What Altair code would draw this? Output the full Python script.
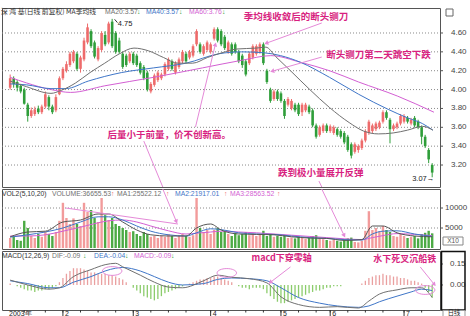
import altair as alt
import pandas as pd

opens = [4.02, 4.12, 4.08, 4.04, 4.00, 3.84, 3.72, 3.74, 3.80, 3.76,
         3.82, 3.92, 3.82, 3.78, 3.95, 4.12, 4.20, 4.26, 4.30, 4.38,
         4.22, 4.32, 4.50, 4.62, 4.50, 4.32, 4.42, 4.58, 4.50, 4.72,
         4.60, 4.52, 4.38, 4.36, 4.30, 4.38, 4.36, 4.28, 4.24, 4.18,
         3.98, 4.05, 4.10, 4.12, 4.16, 4.22, 4.30, 4.18, 4.24, 4.30,
         4.38, 4.34, 4.36, 4.48, 4.48, 4.38, 4.42, 4.40, 4.54, 4.64,
         4.62, 4.56, 4.40, 4.48, 4.48, 4.40, 4.36, 4.30, 4.28, 4.34,
         4.38, 4.40, 4.48, 4.20, 4.00, 3.90, 3.98, 3.96, 3.88, 3.84,
         3.80, 3.84, 3.84, 3.76, 3.78, 3.82, 3.78, 3.62, 3.52, 3.56,
         3.62, 3.56, 3.54, 3.58, 3.56, 3.54, 3.50, 3.42, 3.34, 3.36,
         3.38, 3.46, 3.54, 3.56, 3.58, 3.60, 3.66, 3.76, 3.68, 3.58,
         3.60, 3.64, 3.66, 3.70, 3.64, 3.70, 3.66, 3.60, 3.50, 3.36,
         3.20]
closes = [4.12, 4.06, 4.02, 3.98, 3.85, 3.72, 3.78, 3.79, 3.76, 3.82,
          3.95, 3.82, 3.76, 3.92, 4.12, 4.22, 4.27, 4.38, 4.40, 4.22,
          4.34, 4.52, 4.66, 4.46, 4.35, 4.44, 4.60, 4.48, 4.70, 4.46,
          4.40, 4.40, 4.24, 4.26, 4.38, 4.28, 4.26, 4.18, 4.12, 4.00,
          4.06, 4.15, 4.18, 4.16, 4.27, 4.32, 4.22, 4.28, 4.32, 4.40,
          4.30, 4.40, 4.46, 4.62, 4.40, 4.46, 4.50, 4.48, 4.64, 4.52,
          4.48, 4.44, 4.50, 4.38, 4.40, 4.30, 4.26, 4.16, 4.38, 4.46,
          4.46, 4.48, 4.28, 4.08, 3.88, 3.98, 3.90, 3.88, 3.72, 3.90,
          3.88, 3.78, 3.74, 3.84, 3.84, 3.76, 3.62, 3.50, 3.60, 3.62,
          3.56, 3.61, 3.60, 3.52, 3.50, 3.44, 3.36, 3.30, 3.42, 3.40,
          3.46, 3.56, 3.66, 3.62, 3.64, 3.65, 3.76, 3.70, 3.58, 3.62,
          3.64, 3.72, 3.72, 3.66, 3.68, 3.62, 3.60, 3.50, 3.40, 3.26,
          3.12]
highs = [4.16, 4.14, 4.10, 4.06, 4.02, 3.86, 3.81, 3.82, 3.83, 3.84,
         3.98, 3.94, 3.84, 3.95, 4.14, 4.24, 4.30, 4.40, 4.42, 4.40,
         4.36, 4.55, 4.70, 4.64, 4.52, 4.46, 4.62, 4.62, 4.72, 4.75,
         4.62, 4.55, 4.40, 4.38, 4.40, 4.40, 4.38, 4.30, 4.26, 4.20,
         4.08, 4.17, 4.20, 4.18, 4.29, 4.34, 4.32, 4.30, 4.34, 4.42,
         4.40, 4.42, 4.48, 4.64, 4.50, 4.48, 4.52, 4.50, 4.66, 4.66,
         4.64, 4.58, 4.52, 4.50, 4.50, 4.42, 4.38, 4.32, 4.40, 4.48,
         4.48, 4.50, 4.50, 4.22, 4.02, 4.00, 4.00, 3.98, 3.90, 3.92,
         3.90, 3.86, 3.86, 3.86, 3.86, 3.84, 3.80, 3.64, 3.62, 3.64,
         3.64, 3.63, 3.62, 3.60, 3.58, 3.56, 3.52, 3.44, 3.44, 3.42,
         3.48, 3.58, 3.68, 3.64, 3.66, 3.67, 3.78, 3.78, 3.70, 3.64,
         3.66, 3.74, 3.74, 3.72, 3.70, 3.72, 3.68, 3.62, 3.52, 3.38,
         3.22]
lows = [4.00, 4.02, 3.98, 3.96, 3.84, 3.66, 3.70, 3.72, 3.74, 3.74,
        3.80, 3.78, 3.74, 3.76, 3.94, 4.10, 4.18, 4.24, 4.28, 4.20,
        4.18, 4.30, 4.48, 4.44, 4.33, 4.30, 4.40, 4.46, 4.48, 4.44,
        4.38, 4.38, 4.22, 4.24, 4.28, 4.26, 4.24, 4.16, 4.10, 3.98,
        3.96, 4.03, 4.08, 4.10, 4.14, 4.20, 4.20, 4.16, 4.22, 4.28,
        4.28, 4.32, 4.34, 4.46, 4.38, 4.36, 4.40, 4.38, 4.52, 4.50,
        4.46, 4.42, 4.38, 4.36, 4.38, 4.28, 4.23, 4.14, 4.26, 4.32,
        4.36, 4.38, 4.26, 4.06, 3.86, 3.88, 3.88, 3.86, 3.69, 3.82,
        3.78, 3.76, 3.72, 3.72, 3.76, 3.74, 3.60, 3.48, 3.50, 3.54,
        3.54, 3.54, 3.52, 3.50, 3.48, 3.42, 3.34, 3.27, 3.32, 3.33,
        3.36, 3.44, 3.52, 3.54, 3.56, 3.58, 3.64, 3.68, 3.43, 3.56,
        3.58, 3.62, 3.64, 3.64, 3.62, 3.60, 3.58, 3.42, 3.38, 3.22,
        3.07]
volumes = [2500, 3000, 2000, 1800, 6800, 5000, 3000, 2500, 3500, 2800,
           4000, 3500, 3000, 4000, 6800, 11300, 7500, 6000, 7400, 6000,
           5500, 11300, 9000, 9500, 7500, 6500, 12500, 8200, 7000, 7500,
           6000, 5500, 5000, 4500, 4000, 4200, 3500, 3000, 4000, 3500,
           2800, 3000, 2500, 3000, 2800, 3500, 3000, 2500, 3000, 3500,
           3000, 2800, 3200, 12500, 5000, 4000, 4500, 3500, 4500, 5000,
           4000, 4200, 3500, 3000, 3800, 3200, 3500, 4000, 3200, 3600,
           3000, 3400, 4300, 3000, 3500, 2800, 3000, 2800, 3200, 2500,
           2600, 2400, 2800, 2500, 2300, 2600, 3000, 3200, 2500, 2200,
           2000, 1800, 2000, 1800, 1600, 2200, 2400, 2600, 1500, 1400,
           1800, 4300, 9200, 4500, 5000, 4200, 5500, 4500, 4000, 3000,
           2800, 3500, 3000, 2500, 2800, 3000, 2400, 3500, 3800, 4300,
           3666]
macd_hist = [0.01, 0.0, -0.01, -0.02, -0.03, -0.04, -0.04, -0.05, -0.04, -0.04,
             -0.03, -0.03, -0.02, -0.01, 0.02, 0.05, 0.08, 0.10, 0.12, 0.12,
             0.12, 0.11, 0.10, 0.09, 0.09, 0.08, 0.08, 0.08, 0.07, 0.07,
             0.06, 0.05, 0.04, 0.02, 0.0, -0.02, -0.04, -0.06, -0.08, -0.09,
             -0.10, -0.11, -0.10, -0.08, -0.06, -0.05, -0.04, -0.03, -0.02, -0.01,
             0.0, 0.01, 0.02, 0.03, 0.04, 0.04, 0.05, 0.05, 0.06, 0.06,
             0.05, 0.04, 0.03, 0.02, 0.0, -0.01, -0.02, -0.02, -0.03, -0.02,
             -0.02, -0.02, -0.03, -0.06, -0.08, -0.10, -0.12, -0.13, -0.13, -0.12,
             -0.11, -0.10, -0.09, -0.08, -0.07, -0.06, -0.05, -0.04, -0.04, -0.03,
             -0.02, -0.02, -0.01, -0.01, -0.01, 0.0, 0.0, 0.0, 0.0, 0.0,
             0.01, 0.03, 0.05, 0.06, 0.07, 0.07, 0.08, 0.07, 0.07, 0.06,
             0.06, 0.05, 0.05, 0.04, 0.03, 0.03, 0.02, 0.01, -0.02, -0.05,
             -0.09]

ma20_days = [0, 4.7, 11.6, 14.4, 18.6, 22.7, 26.9, 31.1, 35.2, 39.4, 43.6, 47.7, 51.9, 56.1, 60.2,
             64.4, 70.0, 72.7, 75.5, 79.7, 85.2, 90.8, 96.4, 100.5, 104.7, 108.9, 113.0, 117.2, 120.2]
ma20_vals = [4.09, 4.03, 3.96, 3.99, 4.07, 4.18, 4.28, 4.38, 4.44, 4.41, 4.34, 4.28, 4.28, 4.34, 4.39,
             4.43, 4.44, 4.45, 4.35, 4.20, 4.00, 3.81, 3.65, 3.56, 3.53, 3.54, 3.57, 3.61, 3.57]
ma40_days = [0, 4.7, 11.6, 15.8, 22.2, 31.6, 40.8, 50.0, 59.4, 65.8, 72.2, 76.9, 82.5, 90.8, 99.1,
             107.5, 113.0, 117.2, 120.2]
ma40_vals = [4.06, 4.05, 4.01, 4.01, 4.09, 4.18, 4.23, 4.28, 4.38, 4.40, 4.39, 4.36, 4.29, 4.13, 3.95,
             3.79, 3.70, 3.64, 3.57]
ma60_days = [0, 4.7, 11.6, 17.2, 26.9, 40.8, 54.7, 65.8, 74.1, 82.5, 90.8, 99.1, 110.2, 120.5]
ma60_vals = [4.13, 4.07, 4.00, 3.97, 4.04, 4.13, 4.23, 4.31, 4.36, 4.29, 4.20, 4.08, 3.93, 3.76]

vma_days = [0, 5, 10, 15, 20, 25, 28, 32, 36, 40, 45, 50, 53, 57, 60, 65, 70, 75, 80, 85, 90, 95,
            100, 103, 106, 110, 115, 120]
vma1_vals = [2800, 4000, 4200, 6500, 7000, 8500, 8500, 6500, 4500, 3300, 3000, 3000, 5000, 6000, 4500,
             3500, 3400, 3300, 2800, 2500, 2400, 1900, 2100, 5500, 5500, 3800, 3000, 2800]
vma2_vals = [2700, 3300, 4000, 5000, 6500, 7800, 7800, 7000, 5500, 4200, 3300, 3000, 3800, 4800, 4600,
             3800, 3500, 3400, 3000, 2600, 2400, 2100, 2000, 3500, 4200, 4300, 3500, 2900]
vma3_vals = [3000, 3000, 3300, 4200, 5200, 6300, 6800, 7000, 6500, 5500, 4300, 3500, 3700, 4000, 4200,
             4000, 3800, 3500, 3200, 2900, 2600, 2300, 2100, 2600, 3100, 3600, 3400, 3100]

macd_days = [0, 5, 11, 14, 18, 23, 27, 30, 32, 37, 41, 45, 49, 55, 59, 63, 68, 73, 77, 82, 88, 93,
             99, 102, 105, 110, 114, 117, 120]
dif_vals = [0.035, 0.0, -0.03, -0.02, 0.06, 0.11, 0.145, 0.155, 0.13, 0.07, 0.02, -0.015, -0.02, 0.03,
            0.07, 0.055, 0.045, 0.015, -0.085, -0.14, -0.16, -0.155, -0.165, -0.115, -0.065, -0.035,
            -0.02, -0.02, -0.09]
dea_vals = [0.03, 0.01, -0.02, -0.02, 0.02, 0.06, 0.10, 0.12, 0.125, 0.10, 0.06, 0.02, 0.0, 0.01,
            0.04, 0.05, 0.045, 0.03, -0.02, -0.09, -0.13, -0.15, -0.16, -0.15, -0.12, -0.08, -0.05,
            -0.03, -0.04]

price_ticks = [3.2, 3.4, 3.6, 3.8, 4.0, 4.2, 4.4, 4.6]
vol_ticks = [5000, 10000]
macd_ticks = [0.0, 0.15]
month_days = [-0.9, 15, 35, 57, 77, 91, 112]
month_names = ["2003年", "2", "3", "4", "5", "6", "7"]
minor_days = [4, 10, 20, 25, 30, 40, 45, 50, 62, 67, 72, 82, 87, 96, 101, 106, 117]

p_note_text = ["季均线收敛后的断头铡刀", "断头铡刀第二天跳空下跌", "后量小于前量，价不创新高。", "跌到极小量展开反弹"]
p_note_day = [81.3, 104.7, 45.2, 88.3]
p_note_val = [4.77, 4.366, 3.518, 3.115]
m_note_text = ["macd下穿零轴", "水下死叉沉船铁"]
m_note_day = [77.2, 112.2]
m_note_val = [0.193, 0.186]
# hand-drawn loops around the MACD crossings
loop_days = [29.0, 61.6, 118.0]
loop_vals = [0.10, 0.086, -0.036]

RED, GREEN = "#ee6b6b", "#2f9e3a"
VRED, VGREEN = "#f29b9b", "#4caa44"
HRED, HGREEN = "#eaa0a0", "#8ccc6c"
GRAY, BLUE, MAG = "#707070", "#3f76c8", "#d35fd3"
PINK, ARROW = "#d81f80", "#e58ad8"
W, H1, H2, H3 = 438, 179, 60, 59

df = pd.DataFrame({"day": list(range(len(opens))), "open": opens, "close": closes,
                   "high": highs, "low": lows, "vol": volumes, "hist": macd_hist})
df["dir"] = ["up" if c >= o else "down" for o, c in zip(opens, closes)]
df["vdir"] = df["dir"]
df["hdir"] = ["pos" if h >= 0 else "neg" for h in macd_hist]

xs = alt.Scale(domain=[-0.9, 120.8], nice=False, zero=False)
ps = alt.Scale(domain=[2.967, 4.865], nice=False, zero=False)
vs = alt.Scale(domain=[-250, 14750], nice=False, zero=False)
ms = alt.Scale(domain=[-0.179, 0.243], nice=False, zero=False)
X = alt.X("day:Q", scale=xs, axis=None)


def txt(t, x, y, color, size=6.8, font="Liberation Sans", align="left"):
    return alt.Chart(pd.DataFrame({"t": [t]})).mark_text(
        align=align, baseline="middle", fontSize=size, font=font, color=color
    ).encode(x=alt.value(x), y=alt.value(y), text="t:N")


def line(days, vals, ysc, color):
    return alt.Chart(pd.DataFrame({"day": days, "v": vals})).mark_line(
        color=color, strokeWidth=1, interpolate="monotone"
    ).encode(x=X, y=alt.Y("v:Q", scale=ysc, axis=None))


def segs(x1, y1, x2, y2, ysc):
    d = pd.DataFrame({"x1": x1, "y1": y1, "x2": x2, "y2": y2})
    return alt.Chart(d).mark_rule(color=ARROW, strokeWidth=1).encode(
        x=alt.X("x1:Q", scale=xs, axis=None), x2="x2:Q",
        y=alt.Y("y1:Q", scale=ysc, axis=None), y2="y2:Q")


def heads(x, y, ang, ysc):
    d = pd.DataFrame({"x": x, "y": y, "a": ang})
    return alt.Chart(d).mark_point(shape="triangle", filled=True, size=22, color=ARROW, opacity=1).encode(
        x=alt.X("x:Q", scale=xs, axis=None), y=alt.Y("y:Q", scale=ysc, axis=None),
        angle=alt.Angle("a:Q", scale=None))


def notes(t, x, y, ysc, size=9.5):
    d = pd.DataFrame({"t": t, "x": x, "y": y})
    return alt.Chart(d).mark_text(font="Noto Sans CJK SC", fontSize=size, fontWeight="bold",
                                  color=PINK, align="center", baseline="middle").encode(
        x=alt.X("x:Q", scale=xs, axis=None), y=alt.Y("y:Q", scale=ysc, axis=None), text="t:N")


def right_axis(ticks, ysc, labels, label_x, grid=True):
    # right-hand value axis: dotted grid, small ticks and labels placed through the panel's y scale
    d = pd.DataFrame({"v": ticks, "lab": labels})
    Y = alt.Y("v:Q", scale=ysc, axis=None)
    out = []
    if grid:
        out.append(alt.Chart(d).mark_rule(strokeDash=[1, 2], color="#8a8a8a", strokeWidth=1).encode(
            x=alt.value(0), x2=alt.value(W), y=Y))
    out.append(alt.Chart(d).mark_rule(color="#555", strokeWidth=1).encode(
        x=alt.value(W), x2=alt.value(W + 3), y=Y))
    out.append(alt.Chart(d).mark_text(align="left", baseline="middle", fontSize=8, font="Liberation Sans",
                                      color="#444").encode(x=alt.value(label_x), y=Y, text="lab:N"))
    return out


# ---------------- price panel ----------------
cs = alt.Scale(domain=["up", "down"], range=[RED, GREEN])
wick = alt.Chart(df).mark_rule(strokeWidth=1).encode(
    x=X, y=alt.Y("low:Q", scale=ps, axis=None), y2="high:Q",
    color=alt.Color("dir:N", scale=cs, legend=None))
body = alt.Chart(df).mark_bar(size=2.6).encode(
    x=X, y=alt.Y("open:Q", scale=ps, axis=None), y2="close:Q",
    color=alt.Color("dir:N", scale=cs, legend=None))

hl = pd.DataFrame({"t": ["4.75", "3.07→"], "x": [30.6, 120.6], "y": [4.70, 3.052]})
hi_lab = alt.Chart(hl.iloc[[0]]).mark_text(align="left", fontSize=7.5, font="Liberation Sans", color="#222").encode(
    x=alt.X("x:Q", scale=xs, axis=None), y=alt.Y("y:Q", scale=ps, axis=None), text="t:N")
lo_lab = alt.Chart(hl.iloc[[1]]).mark_text(align="right", fontSize=7.5, font="Liberation Sans", color="#222").encode(
    x=alt.X("x:Q", scale=xs, axis=None), y=alt.Y("y:Q", scale=ps, axis=None), text="t:N")
hi_lead = alt.Chart(pd.DataFrame({"x1": [29.7], "y1": [4.745], "x2": [30.5], "y2": [4.71]})).mark_rule(
    color="#333", strokeWidth=1).encode(x=alt.X("x1:Q", scale=xs, axis=None), x2="x2:Q",
                                        y=alt.Y("y1:Q", scale=ps, axis=None), y2="y2:Q")

p_header = [
    txt("深 鸿 基(日线 前复权) MA季均线", -1, 4, "#333", font="Noto Sans CJK SC"),
    txt("MA20:3.57", 103, 4, GRAY), txt("↓", 135, 4, GREEN),
    txt("MA40:3.57", 144, 4, BLUE), txt("↓", 177, 4, GREEN),
    txt("MA60:3.76", 187, 4, MAG), txt("↓", 220, 4, GREEN),
]
icon = alt.Chart(pd.DataFrame({"a": [0]})).mark_rect(filled=False, stroke="#666", strokeWidth=1).encode(
    x=alt.value(444), x2=alt.value(451), y=alt.value(1), y2=alt.value(8))

p_segs = segs([88.6, 88.6, 52.7, 38.0, 87.8], [4.706, 4.345, 3.603, 3.454, 3.03],
              [73.0, 74.7, 58.3, 43.4, 88.6], [4.494, 4.197, 4.472, 2.967, 2.967], ps)
p_heads = heads([73.0, 74.7, 58.3], [4.494, 4.197, 4.472], [250, 254, 16], ps)

price = alt.layer(
    *right_axis(price_ticks, ps, [f"{v:.2f}" for v in price_ticks], 449),
    wick, body,
    line(ma60_days, ma60_vals, ps, MAG), line(ma40_days, ma40_vals, ps, BLUE),
    line(ma20_days, ma20_vals, ps, GRAY),
    hi_lead, hi_lab, lo_lab, p_segs, p_heads,
    notes(p_note_text, p_note_day, p_note_val, ps), icon, *p_header
).properties(width=W, height=H1)

# ---------------- volume panel ----------------
vbars = alt.Chart(df).mark_bar(size=2.4).encode(
    x=X, y=alt.Y("vol:Q", scale=vs, axis=None), y2=alt.datum(0),
    color=alt.Color("vdir:N", scale=alt.Scale(domain=["up", "down"], range=[VRED, VGREEN]), legend=None))
v_header = [
    txt("VOL2(5,10,20)", 0, 4.5, "#333"),
    txt("VOLUME:36655.53", 50, 4.5, GRAY), txt("↑", 109, 4.5, RED),
    txt("MA1:25522.12", 115, 4.5, GRAY), txt("↑", 164, 4.5, RED),
    txt("MA2:21917.01", 173, 4.5, BLUE), txt("↑", 222, 4.5, RED),
    txt("MA3:28563.52", 228, 4.5, MAG), txt("↑", 275, 4.5, RED),
]
x10box = alt.Chart(pd.DataFrame({"a": [0]})).mark_rect(filled=False, stroke="#888", strokeWidth=1).encode(
    x=alt.value(441), x2=alt.value(461), y=alt.value(48), y2=alt.value(56))
v_segs = segs([43.4, 88.6, 15.8], [14750, 14750, 10000], [47.2, 94.9, 47.7], [6750, 3250, 6000], vs)
v_heads = heads([47.2, 94.9], [6750, 3250], [157, 153], vs)

volume = alt.layer(
    *right_axis(vol_ticks, vs, [str(v) for v in vol_ticks], 443),
    vbars,
    line(vma_days, vma3_vals, vs, MAG), line(vma_days, vma2_vals, vs, BLUE),
    line(vma_days, vma1_vals, vs, "#555"),
    v_segs, v_heads, x10box, txt("X10", 451, 52, "#555", size=6.5, align="center"), *v_header
).properties(width=W, height=H2)

# ---------------- MACD panel ----------------
hbars = alt.Chart(df).mark_bar(size=1.3).encode(
    x=X, y=alt.Y("hist:Q", scale=ms, axis=None), y2=alt.datum(0),
    color=alt.Color("hdir:N", scale=alt.Scale(domain=["pos", "neg"], range=[HRED, HGREEN]), legend=None))
m_header = [
    txt("MACD(12,26,9)", 0, 5, "#333"),
    txt("DIF:-0.09", 50, 5, GRAY), txt("↓", 81, 5, GREEN),
    txt("DEA:-0.04", 92, 5, BLUE), txt("↓", 123, 5, GREEN),
    txt("MACD:-0.09", 132, 5, MAG), txt("↓", 169, 5, GREEN),
]
mbox = alt.Chart(pd.DataFrame({"a": [0]})).mark_rect(filled=False, stroke="#111", strokeWidth=1.5).encode(
    x=alt.value(439.5), x2=alt.value(463), y=alt.value(0.5), y2=alt.value(59))
dbox = alt.Chart(pd.DataFrame({"a": [0]})).mark_rect(filled=False, stroke="#999", strokeWidth=1).encode(
    x=alt.value(441), x2=alt.value(463), y=alt.value(59.5), y2=alt.value(66.5))
m_segs = segs([79.7, 116.6], [0.129, 0.129], [74.1, 120.5], [0.021, 0.007], ms)
m_heads = heads([74.1, 120.5], [0.021, 0.007], [233, 140], ms)
loops = alt.Chart(pd.DataFrame({"day": loop_days, "v": loop_vals})).mark_point(
    shape="M-1,0A1,0.45,0,1,1,1,0A1,0.45,0,1,1,-1,0Z", size=380, filled=False,
    stroke=ARROW, strokeWidth=1, opacity=1).encode(x=X, y=alt.Y("v:Q", scale=ms, axis=None))

# bottom date axis: ticks and month labels placed through the shared day scale
tick_df = pd.DataFrame({"day": sorted(minor_days + month_days[1:])})
xticks = alt.Chart(tick_df).mark_rule(color="#333", strokeWidth=1).encode(
    x=X, y=alt.value(59), y2=alt.value(61.5))
mon_df = pd.DataFrame({"day": month_days, "lab": month_names})
mon_bars = alt.Chart(mon_df.iloc[1:]).mark_rule(color="#333", strokeWidth=1).encode(
    x=X, y=alt.value(59), y2=alt.value(66))
mon_labels = alt.Chart(mon_df).mark_text(align="left", baseline="middle", dx=2, fontSize=7,
                                         font="Liberation Sans", color="#222").encode(
    x=X, y=alt.value(62.5), text="lab:N")

macd = alt.layer(
    *right_axis(macd_ticks, ms, [f"{v:.2f}" for v in macd_ticks], 448, grid=False),
    hbars, line(macd_days, dea_vals, ms, BLUE), line(macd_days, dif_vals, ms, GRAY), loops,
    m_segs, m_heads, notes(m_note_text, m_note_day, m_note_val, ms, size=9),
    xticks, mon_bars, mon_labels,
    mbox, dbox, txt("日线", 452, 62.3, "#222", size=6.3, font="Noto Sans CJK SC", align="center"), *m_header
).properties(width=W, height=H3)

chart = alt.vconcat(price, volume, macd, spacing=0).resolve_scale(
    y="independent", color="independent"
).properties(
    padding={"top": 7, "left": 0, "right": 0, "bottom": 0}, background="white"
).configure_view(stroke="#555", strokeWidth=1).configure_concat(spacing=0)

chart.save("out.html", embed_options={"renderer": "svg", "actions": False})
